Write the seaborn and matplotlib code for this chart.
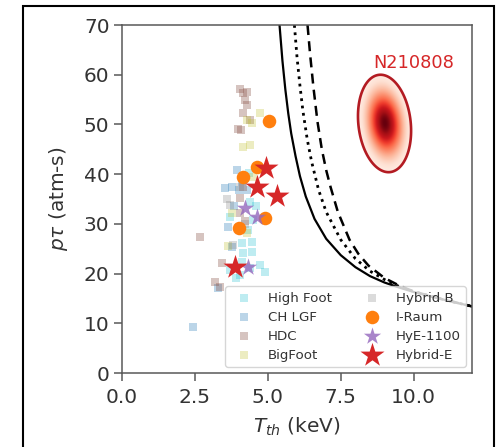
import numpy as np
import pandas as pd
import matplotlib
matplotlib.use("Agg")
import matplotlib.pyplot as plt
import seaborn as sns
from matplotlib.patches import Rectangle, Polygon

sns.set_style("ticks")
plt.rcParams['font.family'] = ['DejaVu Sans']

# ---------------- data ----------------
hf_T = [4.12, 4.47, 4.47, 4.16, 4.74, 4.91, 3.70, 4.05, 4.40, 4.33, 3.70, 4.12, 3.90, 4.60, 4.35, 4.40, 4.50]
hf_P = [26.1, 26.4, 24.3, 24.1, 21.7, 20.3, 20.7, 19.7, 21.1, 28.8, 31.4, 22.3, 19.2, 33.5, 40.3, 34.4, 30.8]

ch_T = [2.44, 3.95, 3.54, 3.78, 4.00, 4.30, 3.64, 3.78, 3.30, 4.10, 3.85]
ch_P = [9.2, 40.8, 37.2, 37.4, 36.8, 36.8, 29.4, 25.4, 17.1, 38.5, 33.5]

hdc_T = [4.05, 4.16, 4.30, 4.23, 4.30, 4.16, 4.40, 3.99, 4.09, 4.05, 4.05, 2.68, 3.44, 3.20, 3.35, 4.15, 4.20]
hdc_P = [57.1, 56.3, 56.5, 54.9, 53.9, 52.3, 50.9, 49.1, 48.9, 35.2, 32.2, 27.4, 22.1, 18.3, 17.3, 37.5, 30.5]

bf_T = [4.74, 4.47, 4.30, 4.16, 4.40, 3.78, 3.64, 4.30, 4.50]
bf_P = [52.3, 50.3, 50.8, 45.5, 45.9, 32.2, 25.5, 28.2, 39.5]

hb_T = [3.70, 3.82, 4.05, 3.60, 4.20]
hb_P = [33.8, 25.8, 37.4, 35.0, 30.0]

ir_T = [5.05, 4.64, 4.16, 4.91, 4.02]
ir_P = [50.7, 41.4, 39.5, 31.2, 29.2]

hye_T = [4.23, 4.64, 4.33]
hye_P = [33.2, 31.4, 21.3]

he_T = [4.95, 4.64, 5.33, 3.88]
he_P = [41.2, 37.4, 35.6, 21.3]

# ignition-type curves
solid_T = [5.40, 5.50, 5.60, 5.70, 5.80, 5.95, 6.10, 6.30, 6.60, 7.00, 7.50, 8.00, 8.50, 9.00, 9.50, 10.00, 11.00, 12.00]
solid_P = [70.0, 62.8, 57.0, 52.2, 48.2, 43.6, 39.6, 35.5, 31.0, 27.0, 23.7, 21.3, 19.5, 18.2, 17.2, 16.3, 14.8, 13.4]
dot_T = [5.91, 6.00, 6.10, 6.20, 6.35, 6.50, 6.74, 7.00, 7.50, 8.00, 8.50, 9.00, 9.50, 10.00, 11.00, 12.00]
dot_P = [70.0, 63.5, 57.8, 52.8, 47.0, 42.5, 36.8, 32.4, 26.8, 23.0, 20.5, 18.8, 17.4, 16.4, 14.8, 13.4]
dash_T = [6.36, 6.45, 6.56, 6.70, 6.85, 7.00, 7.15, 7.40, 7.80, 8.10, 8.45, 9.00, 9.50, 10.00, 11.00, 12.00]
dash_P = [70.0, 64.0, 57.6, 50.6, 45.0, 40.8, 37.4, 32.4, 26.8, 24.0, 21.6, 19.1, 17.6, 16.4, 14.8, 13.4]

# N210808 ellipse
ell_center = (9.0, 50.2)
ell_axes = (0.9, 9.8)
ell_shear = -0.014
ell_label = "N210808"

x_ticks = [0.0, 2.5, 5.0, 7.5, 10.0]
y_ticks = [0, 10, 20, 30, 40, 50, 60, 70]

# ---------------- figure ----------------
fig = plt.figure(figsize=(4.99, 4.47), dpi=100)
ax = fig.add_axes([0.2445, 0.1655, 0.7015, 0.7785])

sq = dict(marker="s", s=36, linewidth=0, ax=ax)
sns.scatterplot(x=hf_T, y=hf_P, color="tab:cyan", alpha=0.28, label="High Foot", **sq)
sns.scatterplot(x=ch_T, y=ch_P, color="tab:blue", alpha=0.3, label="CH LGF", **sq)
sns.scatterplot(x=hdc_T, y=hdc_P, color="tab:brown", alpha=0.35, label="HDC", **sq)
sns.scatterplot(x=bf_T, y=bf_P, color="tab:olive", alpha=0.28, label="BigFoot", **sq)
sns.scatterplot(x=hb_T, y=hb_P, color="tab:gray", alpha=0.28, label="Hybrid B", **sq)
sns.scatterplot(x=ir_T, y=ir_P, color="tab:orange", marker="o", s=95, linewidth=0, label="I-Raum", ax=ax)
sns.scatterplot(x=hye_T, y=hye_P, color="tab:purple", alpha=0.8, marker="*", s=170, linewidth=0, label="HyE-1100", ax=ax)
sns.scatterplot(x=he_T, y=he_P, color="tab:red", marker="*", s=330, linewidth=0, label="Hybrid-E", ax=ax)

sns.lineplot(x=solid_T, y=solid_P, color="black", lw=1.6, sort=False, estimator=None, ax=ax)
sns.lineplot(x=dot_T, y=dot_P, color="black", lw=2.0, ls=":", sort=False, estimator=None, ax=ax)
sns.lineplot(x=dash_T, y=dash_P, color="black", lw=1.8, ls=(0, (4, 2.5)), sort=False, estimator=None, ax=ax)

# ellipse with gaussian fill
t = np.linspace(0, 2 * np.pi, 200)
cx, cy = ell_center
a, b = ell_axes
ey = cy + b * np.sin(t)
ex = cx + a * np.cos(t) + ell_shear * (ey - cy)
gx = np.linspace(cx - 1.3, cx + 1.3, 200)
gy = np.linspace(cy - 12, cy + 12, 200)
GX, GY = np.meshgrid(gx, gy)
U = (GX - cx - ell_shear * (GY - cy)) / a
V = (GY - cy) / b
Z = np.exp(-(U ** 2 + V ** 2) / (2 * 0.42 ** 2))
im = ax.imshow(Z, extent=[gx[0], gx[-1], gy[0], gy[-1]], origin="lower",
               cmap="Reds", aspect="auto", vmin=0, vmax=1.0, zorder=1)
poly = Polygon(np.column_stack([ex, ey]), closed=True, facecolor="none",
               edgecolor="#b31b22", lw=1.9, zorder=3)
ax.add_patch(poly)
im.set_clip_path(poly)
ax.text(10.0, 62.3, ell_label, color="#d62728", fontsize=12.8, ha="center", va="center")

ax.set_xlim(0, 12)
ax.set_ylim(0, 70)
ax.set_xticks(x_ticks)
ax.set_xticklabels([f"{v:.1f}" for v in x_ticks])
ax.set_yticks(y_ticks)
ax.tick_params(labelsize=14.5, colors="0.35", labelcolor="0.2", length=5.5, width=1.1)
ax.tick_params(axis="x", pad=5.5)
for s in ax.spines.values():
    s.set_color("0.35")
    s.set_linewidth(1.1)
    s.set_visible(True)
ax.set_xlabel(r"$T_{th}$ (keV)", fontsize=14.5, color="0.2", labelpad=6)
ax.set_ylabel(r"$p\tau$ (atm-s)", fontsize=14.5, color="0.2", labelpad=10)

leg = ax.legend(loc="lower right", ncol=2, fontsize=9.6, frameon=True, borderaxespad=0.45,
                columnspacing=2.0, handletextpad=0.8, labelspacing=0.45)
for txt in leg.get_texts():
    txt.set_color("0.2")

fig.patches.append(Rectangle((23 / 499, -0.02), (494 - 23) / 499, 1.02 - 6 / 447,
                             transform=fig.transFigure, fill=False, edgecolor="black", lw=1.5))

fig.savefig("out.png", dpi=100)
